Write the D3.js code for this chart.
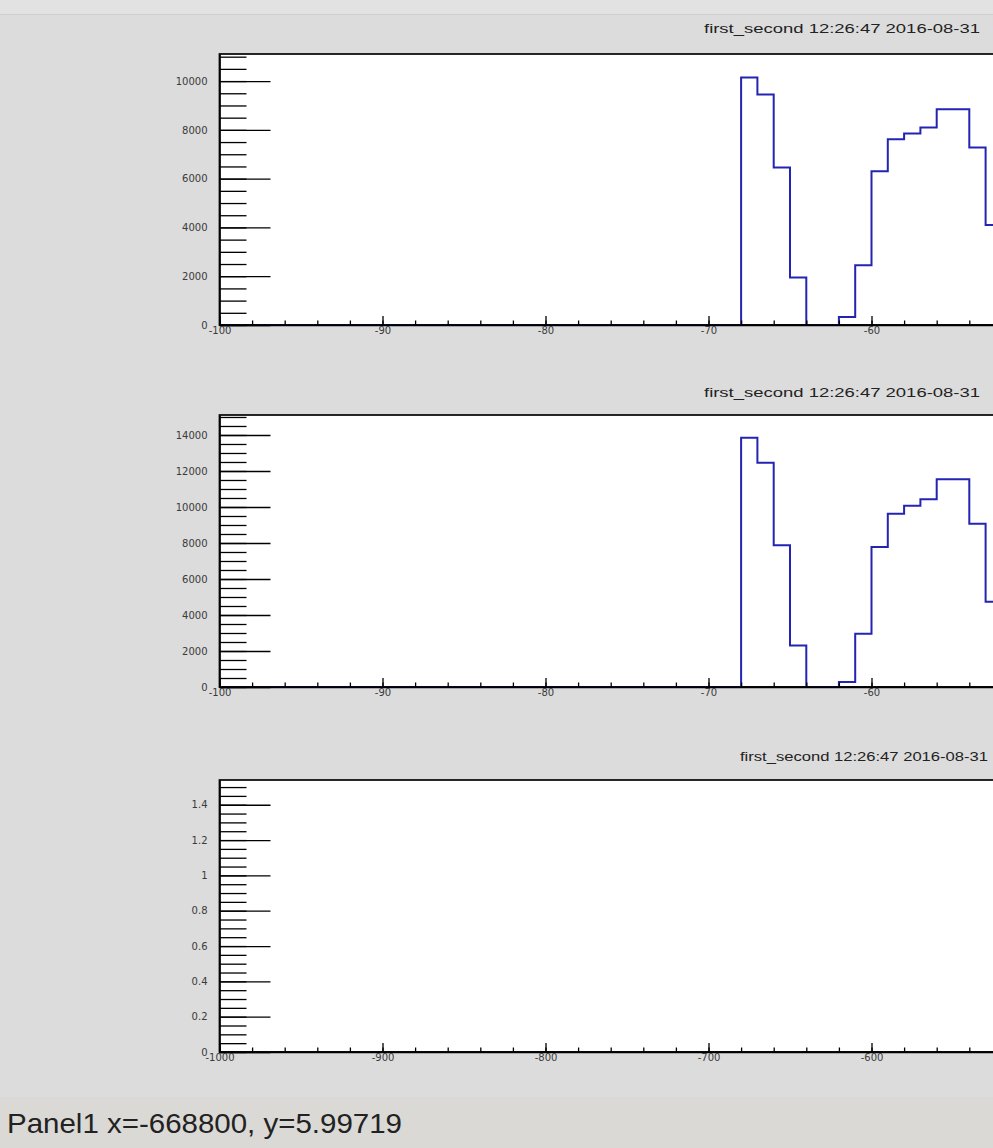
<!DOCTYPE html>
<html>
<head>
<meta charset="utf-8">
<script src="https://cdn.jsdelivr.net/npm/d3@7"></script>
<style>
  html, body { margin: 0; padding: 0; background: #dcdcdc; overflow: hidden; }
  svg { display: block; }
  .tick text { font-family: "DejaVu Sans", sans-serif; font-size: 10px; fill: #3a3a3a; }
  .tick line { stroke: #000; stroke-width: 1.3; }
  .domain { stroke: #000; stroke-width: 1.6; }
</style>
</head>
<body>
<div id="chart"></div>
<script>
// Histogram bins (lower edge, width 1) and counts
const binLow = [-68, -67, -66, -65, -64, -63, -62, -61, -60, -59, -58, -57, -56, -55, -54, -53];
const counts1 = [10150, 9450, 6460, 1950, 0, 0, 330, 2450, 6300, 7610, 7850, 8100, 8840, 8840, 7280, 4100];
const counts2 = [13850, 12460, 7870, 2300, 0, 0, 280, 2960, 7780, 9630, 10070, 10430, 11540, 11540, 9070, 4740];

// Axis ticks (visible part of the frame)
const xTicks12 = [-100, -90, -80, -70, -60];
const xTicks3 = [-1000, -900, -800, -700, -600];
const yTicks1 = [0, 2000, 4000, 6000, 8000, 10000];
const yTicks2 = [0, 2000, 4000, 6000, 8000, 10000, 12000, 14000];
const yTicks3 = [0, 0.2, 0.4, 0.6, 0.8, 1, 1.2, 1.4];

const titleText = 'first_second  12:26:47  2016-08-31';
const statusText = 'Panel1  x=-668800, y=5.99719';

const width = 993, height = 1148;
const svg = d3.select('#chart').append('svg')
    .attr('width', width)
    .attr('height', height);

// Canvas background
svg.append('rect').attr('width', width).attr('height', height).attr('fill', '#dcdcdc');
svg.append('rect').attr('width', width).attr('height', 14).attr('fill', '#e2e2e2');
svg.append('line').attr('x1', 0).attr('x2', width).attr('y1', 14.5).attr('y2', 14.5)
    .attr('stroke', '#cfcfcf');

// Status bar
svg.append('rect').attr('y', 1097).attr('width', width).attr('height', height - 1097)
    .attr('fill', '#dad9d6');
svg.append('text')
    .attr('x', 7).attr('y', 1133)
    .attr('font-family', '"Liberation Sans", Arial, sans-serif')
    .attr('font-size', 28)
    .attr('fill', '#222')
    .attr('textLength', 395)
    .attr('lengthAdjust', 'spacingAndGlyphs')
    .text(statusText);

const frameLeft = 219.5;
const pxPerUnit = 16.3;
const frameRight = frameLeft + 60 * pxPerUnit;

const panels = [
    { top: 54, bottom: 325, xDomain: [-100, -40], xTicks: xTicks12, xMinor: 2,
      yMax: 11110, yTicks: yTicks1, yMinor: 500, counts: counts1,
      title: { x1: 704, x2: 980, y: 33, size: 13 } },
    { top: 415, bottom: 687, xDomain: [-100, -40], xTicks: xTicks12, xMinor: 2,
      yMax: 15110, yTicks: yTicks2, yMinor: 500, counts: counts2,
      title: { x1: 704, x2: 980, y: 397, size: 13 } },
    { top: 780, bottom: 1052, xDomain: [-1000, -400], xTicks: xTicks3, xMinor: 20,
      yMax: 1.54, yTicks: yTicks3, yMinor: 0.05, counts: null,
      title: { x1: 740, x2: 988, y: 761, size: 12 } }
];

panels.forEach(p => {
    const x = d3.scaleLinear().domain(p.xDomain).range([frameLeft, frameRight]);
    const y = d3.scaleLinear().domain([0, p.yMax]).range([p.bottom, p.top]);
    const g = svg.append('g');

    // Title
    g.append('text')
        .attr('x', p.title.x1).attr('y', p.title.y)
        .attr('font-family', '"Liberation Sans", Arial, sans-serif')
        .attr('font-size', p.title.size)
        .attr('fill', '#222')
        .attr('textLength', p.title.x2 - p.title.x1)
        .attr('lengthAdjust', 'spacingAndGlyphs')
        .text(titleText);

    // Frame
    g.append('rect')
        .attr('x', frameLeft).attr('y', p.top)
        .attr('width', frameRight - frameLeft).attr('height', p.bottom - p.top)
        .attr('fill', '#fff')
        .attr('stroke', '#111').attr('stroke-width', 1.8);

    // Histogram outline
    if (p.counts) {
        const pts = [[p.xDomain[0], 0], [binLow[0], 0]];
        binLow.forEach((lo, i) => {
            pts.push([lo, p.counts[i]]);
            pts.push([lo + 1, p.counts[i]]);
        });
        pts.push([binLow[binLow.length - 1] + 1, 0]);
        const line = d3.line().x(d => x(d[0])).y(d => y(d[1]));
        g.append('path')
            .attr('d', line(pts))
            .attr('fill', 'none')
            .attr('stroke', '#2424b4')
            .attr('stroke-width', 2);
    }

    // Y axis: minor then major ticks pointing into the frame
    const yMinorVals = d3.range(0, p.yMax + 1e-9, p.yMinor);
    g.append('g')
        .attr('transform', `translate(${frameLeft},0)`)
        .call(d3.axisLeft(y).tickValues(yMinorVals).tickFormat('').tickSizeInner(-27).tickSizeOuter(0))
        .call(a => a.select('.domain').remove());
    g.append('g')
        .attr('transform', `translate(${frameLeft},0)`)
        .call(d3.axisLeft(y).tickValues(p.yTicks)
            .tickFormat(d => String(+d.toFixed(2)))
            .tickSizeInner(-51).tickSizeOuter(0).tickPadding(12));

    // X axis
    const xMinorVals = d3.range(p.xDomain[0], p.xDomain[1] + 1e-9, p.xMinor);
    g.append('g')
        .attr('transform', `translate(0,${p.bottom})`)
        .call(d3.axisBottom(x).tickValues(xMinorVals).tickFormat('').tickSizeInner(-4.5).tickSizeOuter(0))
        .call(a => a.select('.domain').remove());
    g.append('g')
        .attr('transform', `translate(0,${p.bottom})`)
        .call(d3.axisBottom(x).tickValues(p.xTicks)
            .tickFormat(d => String(d))
            .tickSizeInner(-9).tickSizeOuter(0).tickPadding(2));
    // axis line over the full visible width
    g.append('line')
        .attr('x1', frameLeft).attr('x2', frameRight)
        .attr('y1', p.bottom).attr('y2', p.bottom)
        .attr('stroke', '#000').attr('stroke-width', 1.6);
});
</script>
</body>
</html>
